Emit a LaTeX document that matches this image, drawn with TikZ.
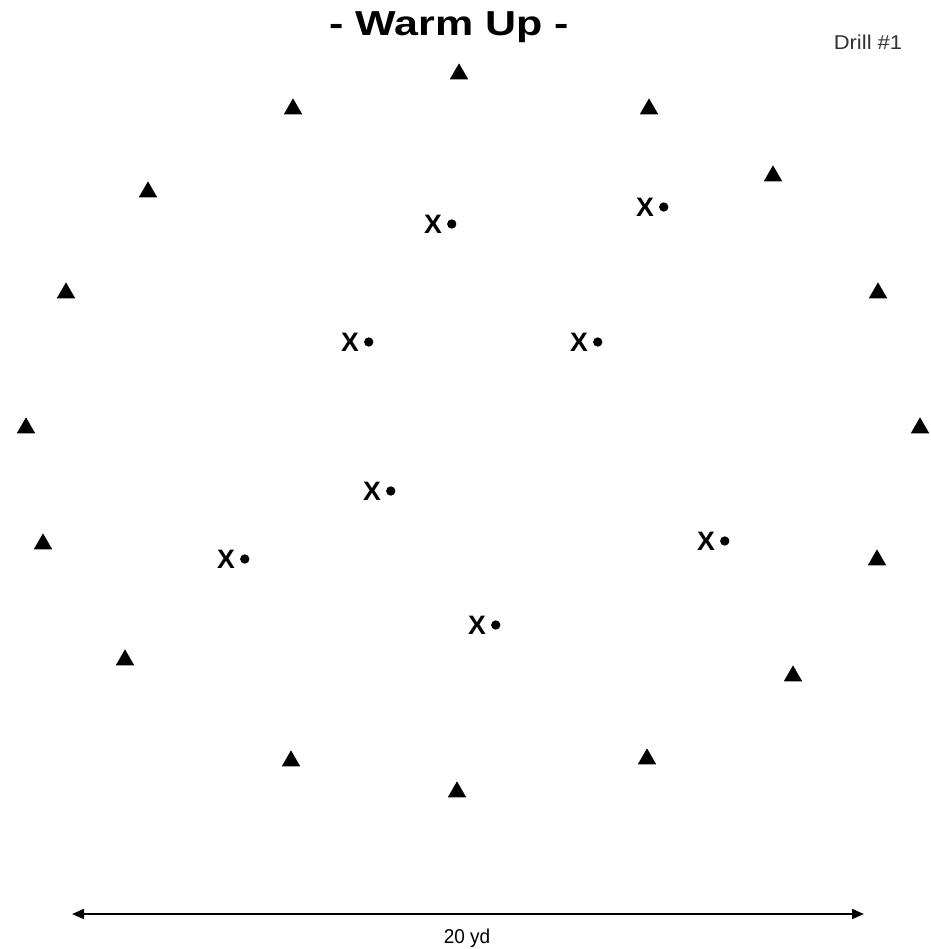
\documentclass[tikz,border=0pt]{standalone}
\usepackage{fontspec}
\setmainfont{Liberation Sans}
\usepackage{tikz}
\usetikzlibrary{shapes.geometric,arrows.meta,positioning}

\tikzset{
  cone/.style={regular polygon,regular polygon sides=3,fill=black,inner sep=0pt,minimum size=16pt},
  player/.style={inner sep=0pt,font=\fontsize{20}{20}\selectfont\bfseries},
  ball/.style={circle,fill=black,inner sep=0pt,minimum size=7pt}
}

\begin{document}
\begin{tikzpicture}[x=0.75pt,y=0.75pt,yscale=-1,xscale=1]
\useasboundingbox (0,0) rectangle (931,949);

% Title
\node (title) at (449,27) {\scalebox{1.24}[1]{\fontsize{26}{26}\selectfont\bfseries - Warm Up -}};
% Drill number
\node[text=black!80] (drill) at (868,42) {\scalebox{1.1}[1]{\fontsize{15}{15}\selectfont Drill \#1}};

% Cones
\node[cone] (c1) at (459,74) {};
\node[cone] (c2) at (293,109) {};
\node[cone] (c3) at (649,109) {};
\node[cone] (c4) at (148,192) {};
\node[cone] (c5) at (773,176) {};
\node[cone] (c6) at (66,293) {};
\node[cone] (c7) at (878,293) {};
\node[cone] (c8) at (26,428) {};
\node[cone] (c9) at (920,428) {};
\node[cone] (c10) at (43,544) {};
\node[cone] (c11) at (877,560) {};
\node[cone] (c12) at (125,660) {};
\node[cone] (c13) at (793,676) {};
\node[cone] (c14) at (291,761) {};
\node[cone] (c15) at (647,759) {};
\node[cone] (c16) at (457,792) {};

% Players with balls
\node[player] (p1) at (433,224) {X};
\node[ball,right=3.5pt of p1] (b1) {};
\node[player] (p2) at (645,207) {X};
\node[ball,right=3.5pt of p2] (b2) {};
\node[player] (p3) at (350,342) {X};
\node[ball,right=3.5pt of p3] (b3) {};
\node[player] (p4) at (579,342) {X};
\node[ball,right=3.5pt of p4] (b4) {};
\node[player] (p5) at (372,491) {X};
\node[ball,right=3.5pt of p5] (b5) {};
\node[player] (p6) at (226,559) {X};
\node[ball,right=3.5pt of p6] (b6) {};
\node[player] (p7) at (706,541) {X};
\node[ball,right=3.5pt of p7] (b7) {};
\node[player] (p8) at (477,625) {X};
\node[ball,right=3.5pt of p8] (b8) {};

% Scale
\coordinate (ruleL) at (72,914);
\coordinate (ruleR) at (864,914);
\draw[line width=1.3pt,{Triangle[length=9pt,width=7.5pt]}-{Triangle[length=9pt,width=7.5pt]}] (ruleL) -- (ruleR);
\node (yd) at (467,938) {\scalebox{0.95}[1]{\fontsize{15}{15}\selectfont 20 yd}};

\end{tikzpicture}
\end{document}
